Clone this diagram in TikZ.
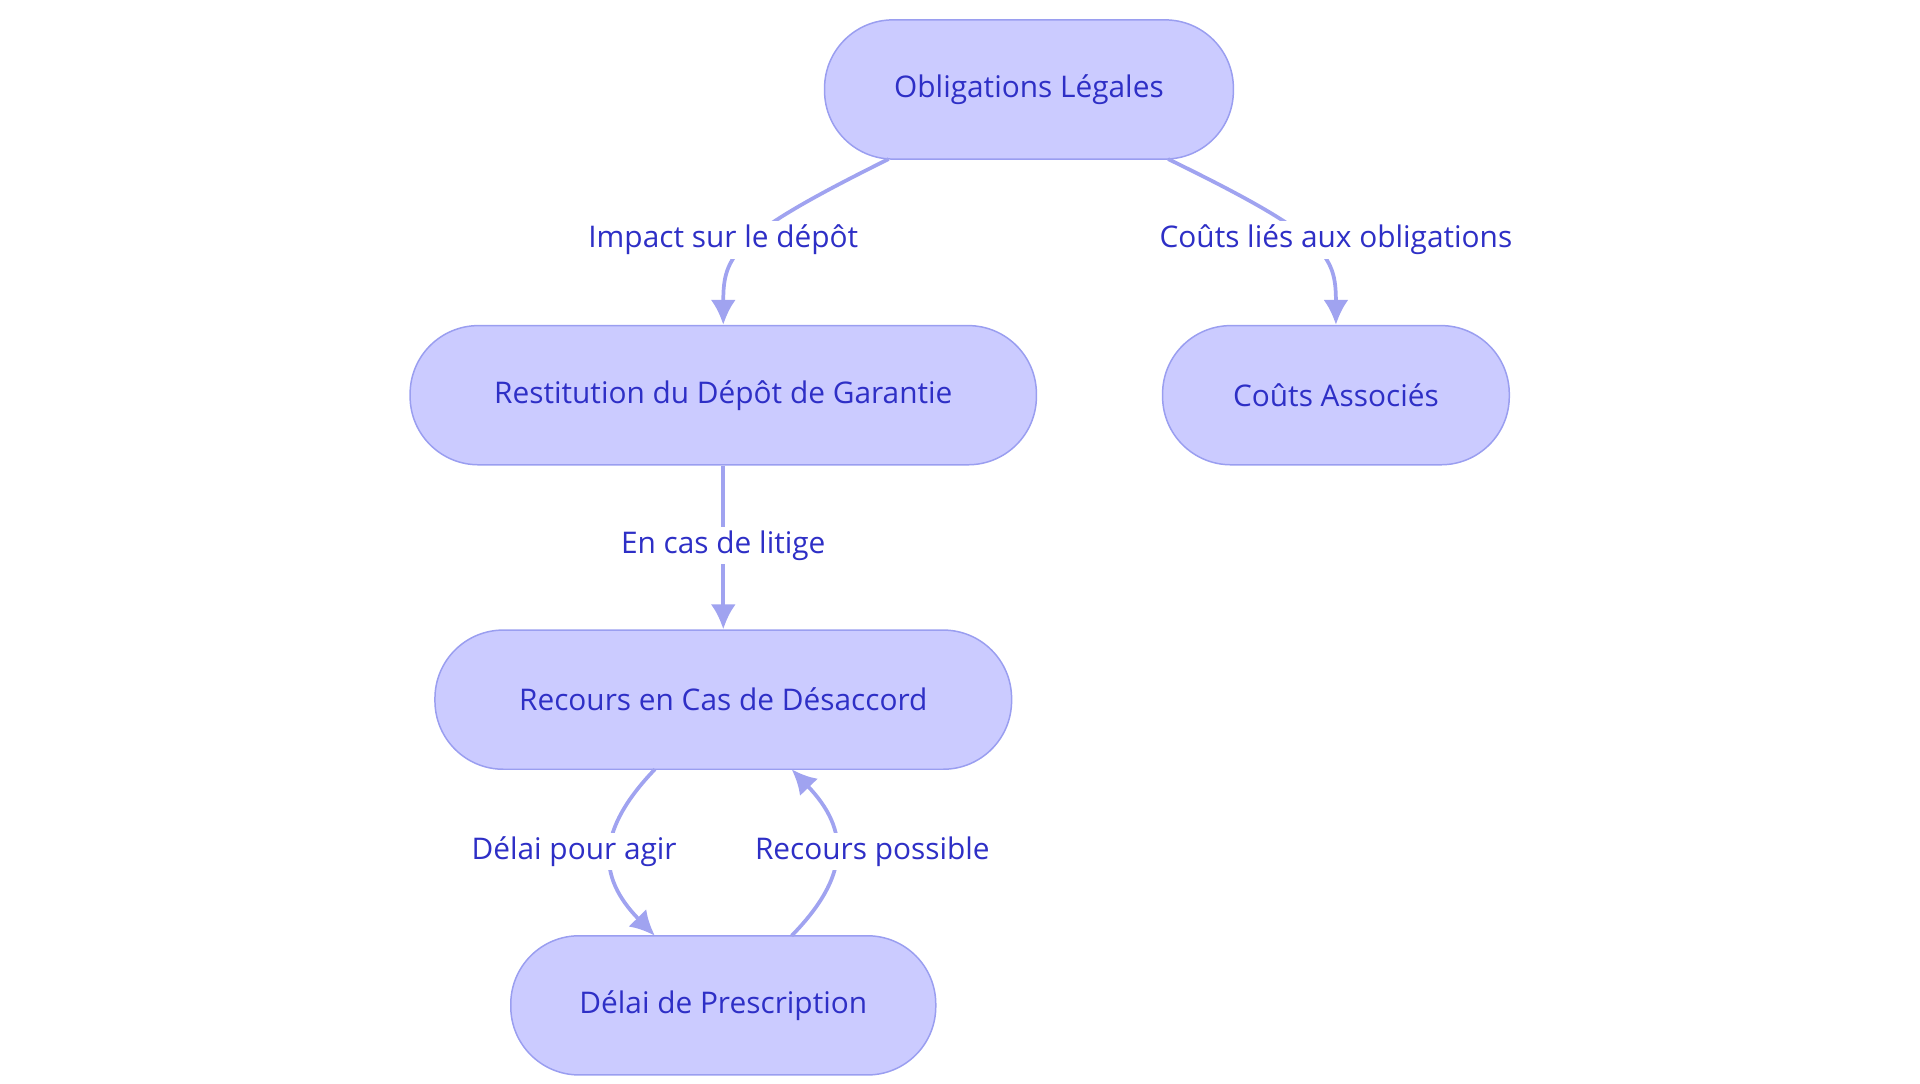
\documentclass[tikz,border=0pt]{standalone}
\usepackage{fontspec}
\setmainfont{Open Sans}
\usetikzlibrary{arrows.meta}
\definecolor{nfill}{HTML}{CBCBFF}
\definecolor{nline}{HTML}{9A9EF0}
\definecolor{ntext}{HTML}{2E2FC6}
\definecolor{eline}{HTML}{A0A3F0}
\begin{document}
\begin{tikzpicture}[x=1pt,y=-1pt,
  box/.style={draw=nline,line width=1.2pt,fill=nfill,rounded corners=55pt,minimum height=112pt,text=ntext,font=\fontsize{24}{28}\selectfont,inner sep=0pt},
  edge/.style={draw=eline,line width=3pt,-{Latex[length=20pt,width=20pt]}},
  lab/.style={fill=white,text=ntext,font=\fontsize{24}{28}\selectfont,inner sep=3pt}]
\useasboundingbox (0,0) rectangle (1545,872);
\node[box,minimum width=329pt] (ob) at (828,72) {Obligations Légales};
\node[box,minimum width=504pt] (re) at (582,318) {Restitution du Dépôt de Garantie};
\node[box,minimum width=279pt] (co) at (1075,318) {Coûts Associés};
\node[box,minimum width=464pt] (rc) at (582,563) {Recours en Cas de Désaccord};
\node[box,minimum width=342pt] (de) at (582,809) {Délai de Prescription};
\coordinate (a1) at (715,128);
\coordinate (a2) at (940,128);
\coordinate (a3) at (527,619);
\coordinate (a4) at (527,753);
\coordinate (a5) at (637,753);
\coordinate (a6) at (637,619);
\draw[edge] (a1) .. controls (590,190) and (582,205) .. (re.north);
\draw[edge] (a2) .. controls (1067,190) and (1075,205) .. (co.north);
\draw[edge] (re.south) -- (rc.north);
\draw[edge] (a3) .. controls (480,668) and (480,705) .. (a4);
\draw[edge] (a5) .. controls (684,705) and (684,668) .. (a6);
\node[lab] (l1) at (582,193) {Impact sur le dépôt};
\node[lab] (l2) at (1075,193) {Coûts liés aux obligations};
\node[lab] (l3) at (582,439) {En cas de litige};
\node[lab] (l4) at (462,685) {Délai pour agir};
\node[lab] (l5) at (702,685) {Recours possible};
\end{tikzpicture}
\end{document}
